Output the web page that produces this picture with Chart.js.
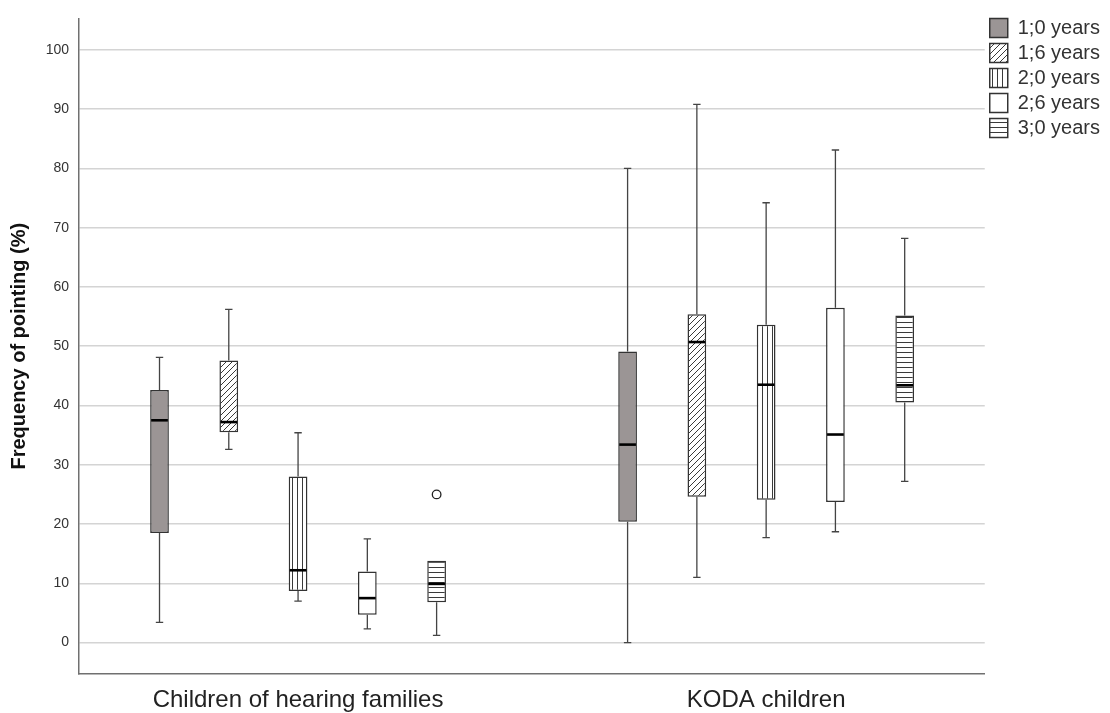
<!DOCTYPE html>
<html>
<head>
<meta charset="utf-8">
<script src="https://cdn.jsdelivr.net/npm/chart.js@4.4.1/dist/chart.umd.min.js"></script>
<style>
  html, body { margin: 0; padding: 0; background: #fff; }
  #wrap { width: 1110px; height: 713px; }
</style>
</head>
<body>
<div id="wrap"><canvas id="boxChart"></canvas></div>
<script>
// ===================================
// DATA
// ===================================
const groups = ["Children of hearing families", "KODA children"];
const ages = ["1;0 years", "1;6 years", "2;0 years", "2;6 years", "3;0 years"];

// one row per age, columns = [hearing, KODA]
const whiskerLow = [[3.4, 0.0], [32.6, 11.0], [7.0, 17.7], [2.3, 18.7], [1.2, 27.2]];
const quartile1  = [[18.5, 20.4], [35.5, 24.6], [8.7, 24.1], [4.7, 23.7], [6.8, 40.5]];
const medians    = [[37.5, 33.4], [37.2, 50.7], [12.2, 43.5], [7.5, 35.1], [9.9, 43.4]];
const quartile3  = [[42.6, 49.1], [47.6, 55.4], [28.0, 53.6], [12.0, 56.5], [13.8, 55.2]];
const whiskerHigh = [[48.1, 80.0], [56.2, 90.8], [35.4, 74.2], [17.5, 83.1], [13.8, 68.2]];
const outliers   = [[[], []], [[], []], [[], []], [[], []], [[25.0], []]];

const yTicks = [0, 10, 20, 30, 40, 50, 60, 70, 80, 90, 100];

// ===================================
// PATTERNS
// ===================================
const canvas = document.getElementById("boxChart");
const ctx = canvas.getContext("2d");

function makePattern(size, draw) {
  const tile = document.createElement("canvas");
  tile.width = size;
  tile.height = size;
  const g = tile.getContext("2d");
  g.fillStyle = "#ffffff";
  g.fillRect(0, 0, size, size);
  g.strokeStyle = "#3a3a3a";
  g.lineWidth = 1;
  draw(g, size);
  return ctx.createPattern(tile, "repeat");
}

const diagonal = makePattern(6, (g, s) => {
  g.beginPath();
  g.moveTo(0, s); g.lineTo(s, 0);
  g.moveTo(-1, 1); g.lineTo(1, -1);
  g.moveTo(s - 1, s + 1); g.lineTo(s + 1, s - 1);
  g.stroke();
});
const vertical = makePattern(5, (g, s) => {
  g.beginPath();
  g.moveTo(2.5, 0); g.lineTo(2.5, s);
  g.stroke();
});
const horizontal = makePattern(5, (g, s) => {
  g.beginPath();
  g.moveTo(0, 2.5); g.lineTo(s, 2.5);
  g.stroke();
});

const fills = ["#9b9595", diagonal, vertical, "#ffffff", horizontal];

// ===================================
// WHISKERS, MEDIANS, OUTLIERS
// ===================================
const boxParts = {
  id: "boxParts",
  beforeDatasetsDraw(chart) {
    const y = chart.scales.y;
    const c = chart.ctx;
    c.save();
    c.strokeStyle = "#444";
    c.lineWidth = 1.3;
    ages.forEach((age, i) => {
      chart.getDatasetMeta(i).data.forEach((el, j) => {
        const x = el.x;
        const cap = 3.7;
        const pairs = [[quartile3[i][j], whiskerHigh[i][j]], [quartile1[i][j], whiskerLow[i][j]]];
        pairs.forEach(([from, to]) => {
          if (from === to) return;
          const y0 = y.getPixelForValue(from);
          const y1 = y.getPixelForValue(to);
          c.beginPath();
          c.moveTo(x, y0); c.lineTo(x, y1);
          c.moveTo(x - cap, y1); c.lineTo(x + cap, y1);
          c.stroke();
        });
      });
    });
    c.restore();
  },
  afterDatasetsDraw(chart) {
    const y = chart.scales.y;
    const c = chart.ctx;
    c.save();
    ages.forEach((age, i) => {
      chart.getDatasetMeta(i).data.forEach((el, j) => {
        const x = el.x;
        const half = el.width / 2;
        const ym = y.getPixelForValue(medians[i][j]);
        c.strokeStyle = "#000";
        c.lineWidth = 2.6;
        c.beginPath();
        c.moveTo(x - half + 1, ym); c.lineTo(x + half - 1, ym);
        c.stroke();

        outliers[i][j].forEach(v => {
          c.strokeStyle = "#222";
          c.lineWidth = 1.3;
          c.fillStyle = "#fff";
          c.beginPath();
          c.arc(x, y.getPixelForValue(v), 4.3, 0, Math.PI * 2);
          c.fill();
          c.stroke();
        });
      });
    });
    c.restore();
  }
};

// ===================================
// CHART
// ===================================
const datasets = ages.map((age, i) => ({
  label: age,
  data: groups.map((g, j) => ({ x: j, y: [quartile1[i][j], quartile3[i][j]] })),
  backgroundColor: fills[i],
  borderColor: "#333",
  borderWidth: 1.5,
  borderSkipped: false,
  categoryPercentage: 0.74,
  barPercentage: 0.27
}));

new Chart(ctx, {
  type: "bar",
  data: { datasets },
  plugins: [boxParts],
  options: {
    responsive: true,
    maintainAspectRatio: false,
    animation: false,
    layout: { padding: { top: 13, right: 0, bottom: 0, left: 0 } },
    plugins: {
      tooltip: { enabled: false },
      legend: {
        position: "right",
        align: "start",
        labels: {
          boxWidth: 18,
          boxHeight: 19,
          padding: 5,
          color: "#333",
          font: { family: "'Liberation Sans', Arial, sans-serif", size: 20 }
        }
      }
    },
    scales: {
      x: {
        type: "linear",
        offset: false,
        min: -0.468,
        max: 1.467,
        afterBuildTicks: s => { s.ticks = groups.map((g, j) => ({ value: j })); },
        afterFit: s => { s.height = 39; },
        grid: { display: false, drawTicks: false, offset: false },
        border: { display: true, color: "#707070", width: 1.5 },
        ticks: {
          padding: 12,
          color: "#222",
          font: { family: "'Liberation Sans', Arial, sans-serif", size: 24 },
          callback: v => groups[v]
        }
      },
      y: {
        min: -5.3,
        max: 105.3,
        afterBuildTicks: s => { s.ticks = yTicks.map(v => ({ value: v })); },
        afterFit: s => { s.width = 79; },
        grid: { color: "#d4d4d4", lineWidth: 1.5, drawTicks: false },
        border: { display: true, color: "#707070", width: 1.5 },
        ticks: {
          padding: 10,
          color: "#333",
          font: { family: "'Liberation Sans', Arial, sans-serif", size: 14 }
        },
        title: {
          display: true,
          text: "Frequency of pointing (%)",
          color: "#111",
          padding: { top: 9, bottom: 0 },
          font: { family: "'Liberation Sans', Arial, sans-serif", size: 20, weight: "bold", lineHeight: 1 }
        }
      }
    }
  }
});
</script>
</body>
</html>
